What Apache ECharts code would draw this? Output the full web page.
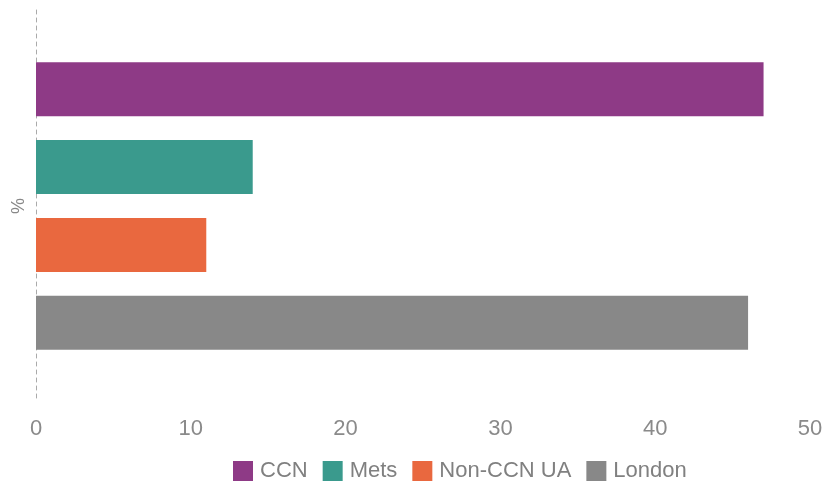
<!DOCTYPE html>
<html><head><meta charset="utf-8">
<script src="https://cdn.jsdelivr.net/npm/echarts@6/dist/echarts.min.js"></script>
<style>html,body{margin:0;padding:0;background:#fff}#c{width:835px;height:482px}</style>
</head><body><div id="c"></div>
<script>
const categories = ['%'];
const seriesNames = ['CCN', 'Mets', 'Non-CCN UA', 'London'];
const ccnValues = [47];
const metsValues = [14];
const nonCcnValues = [11];
const londonValues = [46];
const xTicks = [0, 10, 20, 30, 40, 50];
const colors = ['#8e3a86', '#3a9a8d', '#e9683f', '#888888'];
const valuesList = [ccnValues, metsValues, nonCcnValues, londonValues];

const chart = echarts.init(document.getElementById('c'));
chart.setOption({
  animation: false,
  textStyle: { fontFamily: 'Liberation Sans' },
  grid: { left: 36, right: 25, top: 10, bottom: 80, outerBoundsMode: 'none', containLabel: false },
  legend: {
    left: 228, top: 455,
    itemWidth: 20, itemHeight: 20, itemGap: 15,
    icon: 'rect',
    textStyle: { color: '#808080', fontSize: 22, padding: [0, 0, 0, 2] },
    data: seriesNames
  },
  xAxis: {
    type: 'value', min: xTicks[0], max: xTicks[xTicks.length - 1], interval: 10,
    axisLine: { show: false }, axisTick: { show: false }, splitLine: { show: false },
    axisLabel: { color: '#8a8a8a', fontSize: 22, margin: 16 }
  },
  yAxis: {
    type: 'category', data: categories, inverse: true,
    name: '%', nameLocation: 'middle', nameRotate: 90, nameGap: 8,
    nameTextStyle: { color: '#888', fontSize: 18 },
    axisLine: { show: true, lineStyle: { color: '#aaa', type: [4, 4], width: 1 } },
    axisTick: { show: false }, axisLabel: { show: false }
  },
  series: seriesNames.map((n, i) => ({
    name: n, type: 'bar', data: valuesList[i],
    barWidth: 54, barGap: '44%',
    itemStyle: { color: colors[i] }
  }))
});
</script></body></html>
